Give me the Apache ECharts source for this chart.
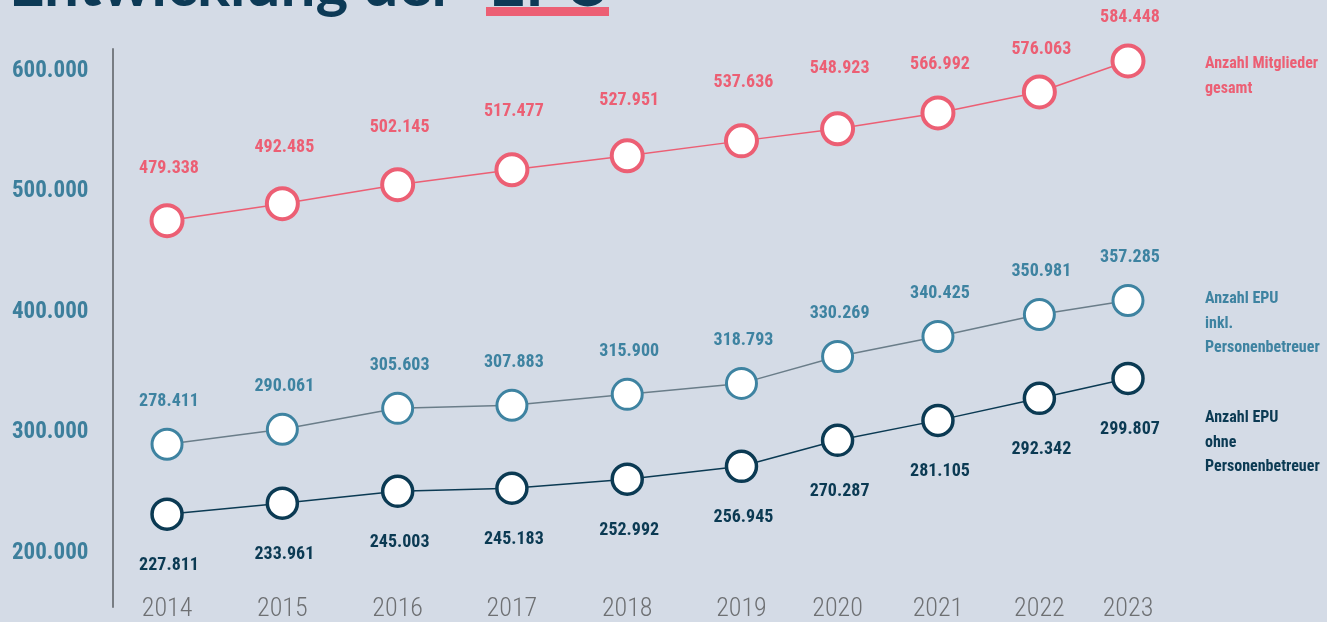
<!DOCTYPE html>
<html lang="de">
<head>
    <meta charset="UTF-8">
    <title>Entwicklung der EPU</title>
    <script src="https://cdn.jsdelivr.net/npm/echarts@6/dist/echarts.min.js"></script>
    <style>
        html, body { margin: 0; padding: 0; background: #d4dbe6; }
        #main { width: 1327px; height: 622px; }
    </style>
</head>
<body>
<div id="main"></div>
<script>
    // years and where each year sits on the (uneven) horizontal scale of the original
    var years = ['2014', '2015', '2016', '2017', '2018', '2019', '2020', '2021', '2022', '2023'];
    var yearPos = [2014.00, 2015.08, 2016.16, 2017.23, 2018.31, 2019.38, 2020.28, 2021.22, 2022.17, 2023.00];

    // plotted heights (the original is not drawn to scale)
    var mitglieder = [475800, 489900, 505600, 518000, 529600, 542000, 552000, 565200, 582600, 608300];
    var epuInkl = [290300, 302700, 320100, 322600, 331700, 340800, 363100, 379700, 397900, 409500];
    var epuOhne = [232300, 241400, 251300, 253800, 261300, 272000, 293600, 310100, 328400, 344900];

    // printed values
    var mitgliederLabels = ['479.338', '492.485', '502.145', '517.477', '527.951', '537.636', '548.923', '566.992', '576.063', '584.448'];
    var epuInklLabels = ['278.411', '290.061', '305.603', '307.883', '315.900', '318.793', '330.269', '340.425', '350.981', '357.285'];
    var epuOhneLabels = ['227.811', '233.961', '245.003', '245.183', '252.992', '256.945', '270.287', '281.105', '292.342', '299.807'];

    var yTicks = [200000, 300000, 400000, 500000, 600000];

    var RED = '#ec5f74';
    var BLUE = '#3e83a1';
    var NAVY = '#0b3a53';
    var narrow = "'Roboto Condensed', Roboto, sans-serif";

    var redLabelDy = [-52, -56, -57, -58, -55, -58, -60, -48, -42, -43];

    function fmt(v) {
        var s = String(Math.round(v));
        return s.replace(/\B(?=(\d{3})+(?!\d))/g, '.');
    }

    function pairs(vals, labelDy) {
        return vals.map(function (v, i) {
            var item = { value: [yearPos[i], v] };
            if (labelDy) item.label = { offset: [2, labelDy[i]] };
            return item;
        });
    }

    var chart = echarts.init(document.getElementById('main'));

    function lineSeries(name, vals, labels, color, lineColor, size, border, dy, perPoint) {
        return {
            name: name,
            type: 'line',
            data: pairs(vals, perPoint),
            clip: false,
            symbol: 'circle',
            symbolSize: size,
            lineStyle: { color: lineColor, width: 1.5 },
            itemStyle: { color: '#ffffff', borderColor: color, borderWidth: border },
            label: {
                show: true,
                position: 'inside',
                offset: [2, dy],
                color: color,
                fontFamily: narrow,
                fontWeight: 'bold',
                fontSize: 18,
                formatter: function (p) { return labels[p.dataIndex]; }
            },
            emphasis: { disabled: true },
            z: 3
        };
    }

    var option = {
        backgroundColor: '#d4dbe6',
        animation: false,
        grid: { left: 113, right: 147, top: 49, bottom: 14 },
        xAxis: {
            type: 'value',
            min: 2013.494,
            max: 2023.487,
            splitLine: { show: false },
            axisLine: { show: false },
            axisTick: { show: false },
            axisLabel: {
                customValues: yearPos,
                margin: 2,
                verticalAlign: 'middle',
                color: '#6e7073',
                fontFamily: narrow,
                fontWeight: 300,
                fontSize: 26,
                formatter: function (v) {
                    var i = yearPos.indexOf(v);
                    return i >= 0 ? years[i] : '';
                }
            }
        },
        yAxis: {
            type: 'value',
            min: 155280,
            max: 618220,
            splitLine: { show: false },
            axisLine: { show: true, onZero: false, lineStyle: { color: '#787d83', width: 2 } },
            axisTick: { show: false },
            axisLabel: {
                customValues: yTicks,
                align: 'left',
                margin: 101,
                color: '#3d7f9c',
                fontFamily: narrow,
                fontWeight: 'bold',
                fontSize: 23,
                formatter: fmt
            }
        },
        series: [
            lineSeries('Anzahl Mitglieder gesamt', mitglieder, mitgliederLabels, RED, RED, 31, 4, 0, redLabelDy),
            lineSeries('Anzahl EPU inkl. Personenbetreuer', epuInkl, epuInklLabels, BLUE, '#6a7d89', 30, 3, -43),
            lineSeries('Anzahl EPU ohne Personenbetreuer', epuOhne, epuOhneLabels, NAVY, NAVY, 30, 3.5, 51)
        ],
        graphic: [
            {
                type: 'rect',
                shape: { x: 486, y: 7, width: 123, height: 9 },
                style: { fill: RED },
                z: 1
            },
            {
                type: 'text',
                x: 9,
                y: 17,
                style: {
                    text: 'Entwicklung der',
                    font: 'bold 62px Lato, sans-serif',
                    fill: '#0d3a56',
                    verticalAlign: 'bottom'
                },
                z: 2
            },
            {
                type: 'text',
                x: 489,
                y: 17,
                style: {
                    text: 'EPU',
                    font: 'bold 63px Lato, sans-serif',
                    fill: '#0d3a56',
                    verticalAlign: 'bottom'
                },
                z: 2
            },
            {
                type: 'text',
                x: 1205,
                y: 51,
                style: {
                    text: 'Anzahl Mitglieder\ngesamt',
                    fill: RED,
                    font: 'bold 16px ' + narrow,
                    lineHeight: 25
                }
            },
            {
                type: 'text',
                x: 1205,
                y: 287,
                style: {
                    text: 'Anzahl EPU\ninkl.\nPersonenbetreuer',
                    fill: BLUE,
                    font: 'bold 16px ' + narrow,
                    lineHeight: 24.5
                }
            },
            {
                type: 'text',
                x: 1205,
                y: 406,
                style: {
                    text: 'Anzahl EPU\nohne\nPersonenbetreuer',
                    fill: NAVY,
                    font: 'bold 16px ' + narrow,
                    lineHeight: 24.5
                }
            }
        ]
    };

    chart.setOption(option);
</script>
</body>
</html>
